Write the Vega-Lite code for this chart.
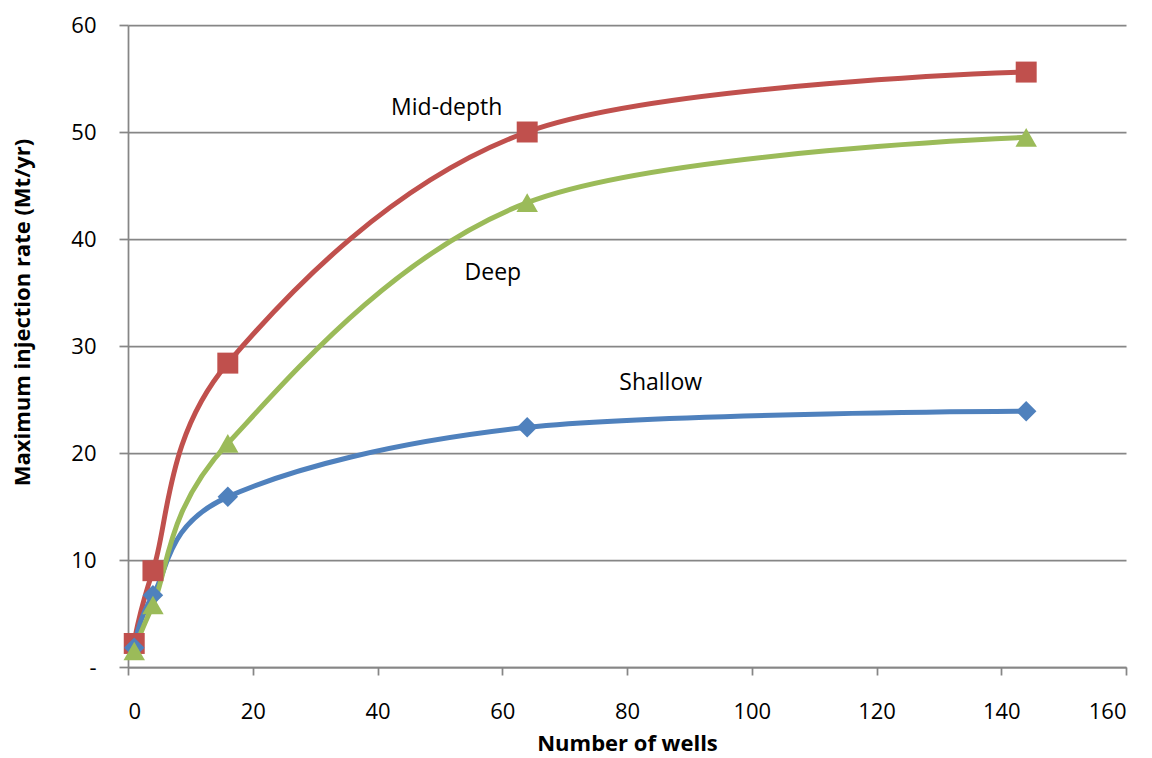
{
  "$schema": "https://vega.github.io/schema/vega-lite/v6.json",
  "width": 998,
  "height": 642,
  "autosize": "none",
  "padding": {"left": 128, "top": 25, "right": 26, "bottom": 91},
  "background": "white",
  "config": {
    "font": "Open Sans",
    "view": {"stroke": null},
    "axis": {
      "domainColor": "#868686",
      "tickColor": "#868686",
      "gridColor": "#868686",
      "domainWidth": 1.75,
      "tickWidth": 1.75,
      "gridWidth": 1.75,
      "labelFont": "Open Sans",
      "labelFontSize": 22,
      "labelColor": "#000000",
      "titleFont": "Open Sans",
      "titleFontSize": 22,
      "titleFontWeight": "bold",
      "titleColor": "#000000"
    }
  },
  "datasets": {
    "series": [
      {"series": "Mid-depth", "wells": 1, "rate": 2.2},
      {"series": "Mid-depth", "wells": 4, "rate": 9.0},
      {"series": "Mid-depth", "wells": 16, "rate": 28.4},
      {"series": "Mid-depth", "wells": 64, "rate": 50.0},
      {"series": "Mid-depth", "wells": 144, "rate": 55.6},
      {"series": "Shallow", "wells": 1, "rate": 1.8},
      {"series": "Shallow", "wells": 4, "rate": 6.7},
      {"series": "Shallow", "wells": 16, "rate": 15.9},
      {"series": "Shallow", "wells": 64, "rate": 22.4},
      {"series": "Shallow", "wells": 144, "rate": 23.9},
      {"series": "Deep", "wells": 1, "rate": 1.5},
      {"series": "Deep", "wells": 4, "rate": 5.8},
      {"series": "Deep", "wells": 16, "rate": 20.9},
      {"series": "Deep", "wells": 64, "rate": 43.4},
      {"series": "Deep", "wells": 144, "rate": 49.5}
    ],
    "labels": [
      {"label": "Mid-depth", "wells": 51.1, "rate": 52.2},
      {"label": "Deep", "wells": 58.5, "rate": 36.8},
      {"label": "Shallow", "wells": 85.4, "rate": 26.5}
    ]
  },
  "layer": [
    {
      "data": {"name": "series"},
      "mark": {"type": "line", "interpolate": "cardinal", "strokeWidth": 5},
      "encoding": {
        "x": {
          "field": "wells", "type": "quantitative",
          "scale": {"domain": [0, 160], "nice": false},
          "axis": {
            "title": "Number of wells",
            "values": [0, 20, 40, 60, 80, 100, 120, 140, 160],
            "grid": false,
            "tickSize": 8,
            "labelPadding": 26,
            "titleY": 83,
            "titleBaseline": "alphabetic"
          }
        },
        "y": {
          "field": "rate", "type": "quantitative",
          "scale": {"domain": [0, 60], "nice": false},
          "axis": {
            "title": "Maximum injection rate (Mt/yr)",
            "values": [0, 10, 20, 30, 40, 50, 60],
            "grid": true,
            "tickSize": 9,
            "labelPadding": 23,
            "titlePadding": 36,
            "titleY": 287,
            "labelExpr": "datum.value == 0 ? '-' : datum.label"
          }
        },
        "color": {
          "field": "series", "type": "nominal",
          "scale": {"domain": ["Shallow", "Mid-depth", "Deep"], "range": ["#4F81BD", "#C0504D", "#9BBB59"]},
          "legend": null
        }
      }
    },
    {
      "data": {"name": "series"},
      "mark": {"type": "point", "filled": true, "opacity": 1},
      "encoding": {
        "x": {"field": "wells", "type": "quantitative"},
        "y": {"field": "rate", "type": "quantitative"},
        "color": {
          "field": "series", "type": "nominal",
          "scale": {"domain": ["Shallow", "Mid-depth", "Deep"], "range": ["#4F81BD", "#C0504D", "#9BBB59"]},
          "legend": null
        },
        "shape": {
          "field": "series", "type": "nominal",
          "scale": {"domain": ["Shallow", "Mid-depth", "Deep"], "range": ["diamond", "square", "triangle-up"]},
          "legend": null
        },
        "size": {
          "field": "series", "type": "nominal",
          "scale": {"domain": ["Shallow", "Mid-depth", "Deep"], "range": [420, 460, 540]},
          "legend": null
        }
      }
    },
    {
      "data": {"name": "labels"},
      "mark": {"type": "text", "font": "Open Sans", "fontSize": 23, "color": "#000000", "align": "center", "baseline": "middle"},
      "encoding": {
        "x": {"field": "wells", "type": "quantitative"},
        "y": {"field": "rate", "type": "quantitative"},
        "text": {"field": "label"}
      }
    }
  ]
}
